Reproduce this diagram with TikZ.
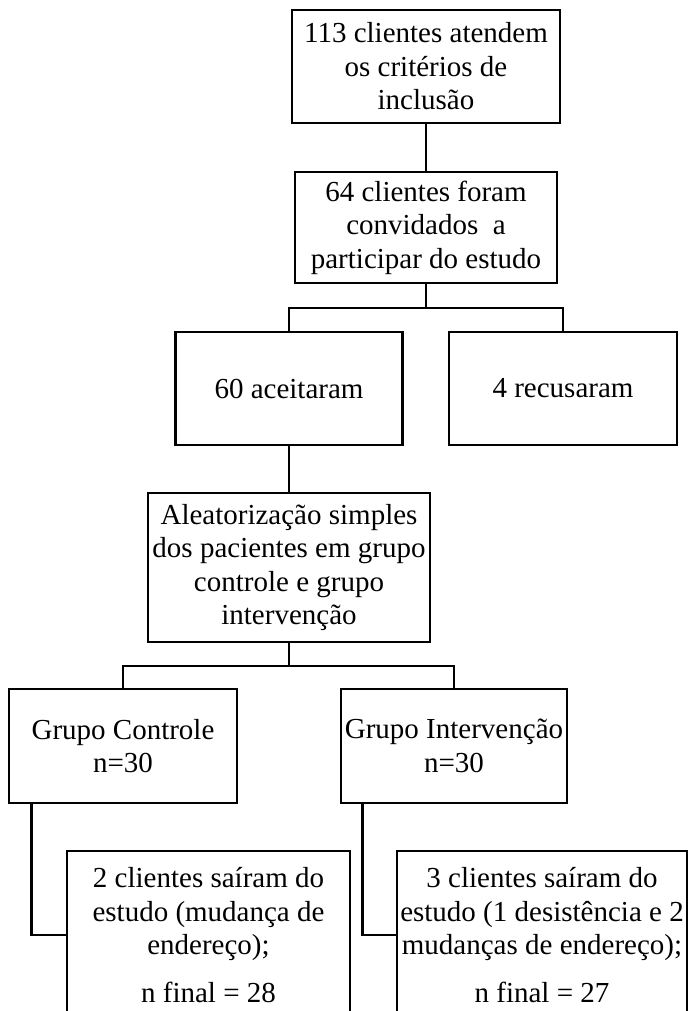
\documentclass[tikz,border=0pt]{standalone}
\usepackage{fontspec}
\setmainfont{Liberation Serif}
\begin{document}
\begin{tikzpicture}[x=1pt,y=-1pt,
  box/.style={draw, line width=2.6pt, align=center, inner sep=0pt,
    font=\fontsize{29}{33.5}\selectfont},
  conn/.style={line width=2.6pt}]
\useasboundingbox (0,0) rectangle (688,1011);
\clip (0,0) rectangle (688,1011);
\node[box, minimum width=268, minimum height=113] (b1) at (426,66.5)
  {113 clientes atendem\\os critérios de\\inclusão};
\node[box, minimum width=262, minimum height=111] (b2) at (426,227.5)
  {64 clientes foram\\convidados\ \ a\\participar do estudo};
\node[box, minimum width=227, minimum height=113] (b60) at (289,388.5)
  {60 aceitaram};
\node[box, minimum width=228, minimum height=113] (brec) at (563,388.5)
  {4 recusaram};
\node[box, minimum width=282, minimum height=149] (al) at (289,567.5)
  {Aleatorização simples\\dos pacientes em grupo\\controle e grupo\\intervenção};
\node[box, minimum width=228, minimum height=114] (gc) at (123,746)
  {Grupo Controle\\n=30};
\node[box, minimum width=226, minimum height=114] (gi) at (454,746)
  {Grupo Intervenção\\n=30};
\node[box, minimum width=283, minimum height=168] (bl) at (208.5,935)
  {2 clientes saíram do\\estudo (mudança de\\endereço);\\[14pt]n final = 28};
\node[box, minimum width=290, minimum height=168] (br) at (542,935)
  {3 clientes saíram do\\estudo (1 desistência e 2\\mudanças de endereço);\\[14pt]n final = 27};
\coordinate (j1) at (426,308);
\coordinate (j2) at (289,666);
\draw[conn] (b1.south) -- (b2.north);
\draw[conn] (b2.south) -- (j1);
\draw[conn] (b60.north) |- (j1) -| (brec.north);
\draw[conn] (b60.south) -- (al.north);
\draw[conn] (al.south) -- (j2);
\draw[conn] (gc.north) |- (j2) -| (gi.north);
\draw[conn] ([xshift=24]gc.south west) |- (bl.west);
\draw[conn] ([xshift=23]gi.south west) |- (br.west);
\end{tikzpicture}
\end{document}
